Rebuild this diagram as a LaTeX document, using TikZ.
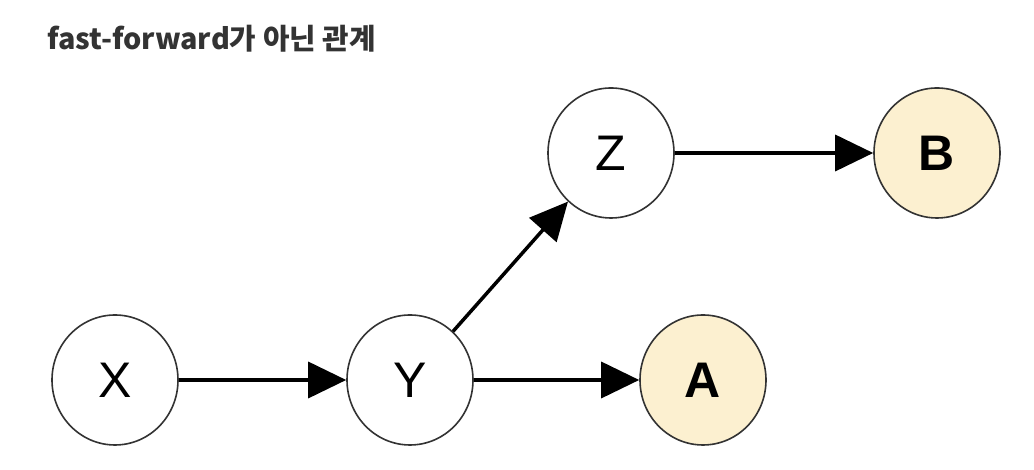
\documentclass[tikz,border=0pt]{standalone}
\usepackage{fontspec}
\setmainfont{Liberation Sans}
\newfontfamily\krfont{Noto Sans CJK KR}
\usetikzlibrary{arrows.meta,shapes.geometric}
\definecolor{cream}{HTML}{FCF0D0}
\definecolor{edgegray}{HTML}{333333}
\definecolor{titlegray}{HTML}{333333}
\tikzset{
  vnode/.style={ellipse, draw=edgegray, line width=1.6pt, fill=white,
    minimum width=126pt, minimum height=130pt, inner sep=0pt,
    font=\fontsize{50}{50}\selectfont},
  hnode/.style={vnode, fill=cream, font=\fontsize{50}{50}\selectfont\bfseries},
  conn/.style={line width=3.5pt, -{Triangle[length=38pt,width=36pt]}, shorten >=0pt},
}
\begin{document}
\begin{tikzpicture}[x=1pt,y=1pt]
\useasboundingbox (0,0) rectangle (1034,470);
\fill[white] (0,0) rectangle (1034,470);
\node[anchor=base west, inner sep=0pt, text=titlegray, font=\krfont\bfseries\fontsize{28.8}{32}\selectfont] (title) at (47,420) {fast-forward가 아닌 관계};
\node[vnode] (X) at (115,90) {X};
\node[vnode] (Y) at (410,90) {Y};
\node[hnode] (A) at (703,90) {A};
\node[vnode] (Z) at (611,317) {Z};
\node[hnode] (B) at (937,317) {B};
\draw[conn] (X) -- (Y);
\draw[conn] (Y) -- (A);
\draw[conn] (Y) -- (Z);
\draw[conn] (Z) -- (B);
\end{tikzpicture}
\end{document}
